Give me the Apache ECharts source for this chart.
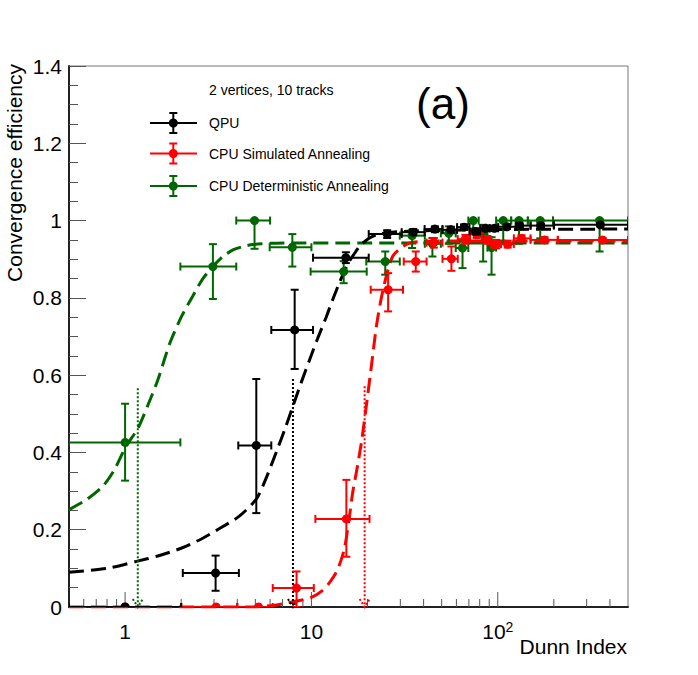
<!DOCTYPE html>
<html><head><meta charset="utf-8">
<script src="https://cdn.jsdelivr.net/npm/echarts@6/dist/echarts.min.js"></script>
<style>html,body{margin:0;padding:0;background:#fff}#c{width:698px;height:675px}</style>
</head><body><div id="c"></div>
<script>
// ---------------- data ----------------
// QPU (black)
const qpuX   = [1.0, 3.06, 5.06, 8.13, 15.3, 25.5, 35.2, 46, 56, 66, 76, 86, 96, 112, 131, 170, 355];
const qpuY   = [0.0, 0.088, 0.418, 0.717, 0.904, 0.965, 0.97, 0.978, 0.976, 0.983, 0.972, 0.98, 0.98, 0.984, 0.987, 0.987, 0.989];
const qpuXlo = [0.5, 2.04, 4.05, 6.09, 10.2, 20.3, 30.5, 40.5, 50.5, 60.5, 70.5, 80.5, 90.5, 100.5, 125, 150, 200];
const qpuXhi = [2.0, 4.08, 6.09, 10.2, 20.3, 30.5, 40.5, 50.5, 60.5, 70.5, 80.5, 90.5, 100.5, 125, 150, 200, 500];
const qpuYlo = [0.0, 0.042, 0.243, 0.616, 0.89, 0.955, 0.962, 0.97, 0.968, 0.976, 0.964, 0.973, 0.973, 0.978, 0.981, 0.982, 0.985];
const qpuYhi = [0.0, 0.133, 0.59, 0.821, 0.918, 0.975, 0.978, 0.985, 0.984, 0.99, 0.98, 0.987, 0.987, 0.99, 0.993, 0.992, 0.993];

// CPU Simulated Annealing (red)
const saX   = [1.0, 3.08, 5.2, 8.32, 15.4, 25.8, 36.3, 45.4, 56.4, 67, 77, 88, 98, 113, 134, 178, 365];
const saY   = [0.0, 0.0, 0.0, 0.049, 0.228, 0.821, 0.894, 0.943, 0.901, 0.952, 0.965, 0.95, 0.939, 0.939, 0.954, 0.95, 0.95];
const saXlo = [0.5, 2.0, 4.0, 6.2, 10.5, 20.8, 31.3, 41.5, 50.5, 61, 71, 82, 92, 104, 122, 150, 210];
const saXhi = [2.0, 4.0, 6.2, 10.3, 20.5, 31, 41.5, 50.5, 61, 71, 82, 92, 104, 122, 150, 210, 500];
const saYlo = [0.0, 0.0, 0.0, 0.0, 0.13, 0.765, 0.868, 0.93, 0.87, 0.94, 0.955, 0.94, 0.928, 0.93, 0.946, 0.943, 0.945];
const saYhi = [0.0, 0.0, 0.0, 0.092, 0.329, 0.864, 0.92, 0.955, 0.933, 0.963, 0.975, 0.96, 0.95, 0.948, 0.962, 0.957, 0.955];

// CPU Deterministic Annealing (green)
const daX   = [1.0, 2.96, 4.95, 7.9, 14.9, 24.9, 34.7, 44.6, 54.6, 64.7, 73.9, 83.5, 92.6, 107, 130, 169, 352];
const daY   = [0.426, 0.881, 1.0, 0.931, 0.868, 0.894, 0.961, 0.94, 0.967, 0.929, 1.0, 0.965, 0.93, 1.0, 1.0, 1.0, 1.0];
const daXlo = [0.5, 1.98, 3.95, 5.97, 9.9, 19.7, 29.8, 40.6, 49.5, 59.5, 69.5, 79, 88, 98, 118, 145, 198];
const daXhi = [1.98, 3.95, 6.0, 10.0, 19.8, 29.8, 40.6, 49.5, 59.5, 69.5, 79, 88, 98, 118, 145, 198, 500];
const daYlo = [0.327, 0.797, 0.927, 0.881, 0.838, 0.86, 0.929, 0.907, 0.94, 0.877, 0.975, 0.894, 0.86, 0.946, 0.94, 0.954, 0.92];
const daYhi = [0.526, 0.939, 1.0, 0.965, 0.895, 0.92, 0.976, 0.955, 0.985, 0.946, 1.0, 0.989, 0.957, 1.0, 1.0, 1.0, 1.0];

// fitted curves
const qpuFitX = [0.5, 0.8, 1.15, 1.5, 2.0, 2.61, 3.21, 4.1, 5.07, 5.73, 6.49, 7.2, 7.96, 8.8, 9.78, 10.8, 12.0, 13.0, 14.1, 15.0, 16.0, 17.2, 18.4, 20.5, 23, 27, 35, 55, 100, 500];
const qpuFitY = [0.09, 0.1, 0.118, 0.132, 0.152, 0.178, 0.203, 0.235, 0.28, 0.335, 0.402, 0.46, 0.52, 0.58, 0.64, 0.695, 0.75, 0.795, 0.838, 0.868, 0.895, 0.918, 0.937, 0.955, 0.965, 0.97, 0.973, 0.975, 0.977, 0.978];
const saFitX  = [0.5, 5.0, 6.2, 7.0, 8.5, 10.0, 11.5, 12.5, 13.6, 14.4, 15.1, 15.9, 16.7, 17.6, 18.6, 19.7, 21.0, 22.3, 23.5, 24.7, 26.0, 27.5, 30.4, 33.6, 40, 60, 500];
const saFitY  = [0.0, 0.0, 0.004, 0.008, 0.016, 0.025, 0.043, 0.063, 0.09, 0.12, 0.155, 0.225, 0.3, 0.36, 0.43, 0.52, 0.625, 0.725, 0.79, 0.838, 0.88, 0.91, 0.93, 0.942, 0.946, 0.947, 0.947];
const daFitX  = [0.5, 0.617, 0.758, 0.876, 1.01, 1.17, 1.32, 1.5, 1.73, 2.0, 2.31, 2.6, 2.96, 3.35, 3.79, 4.3, 4.85, 6.0, 8.6, 500];
const daFitY  = [0.252, 0.277, 0.312, 0.355, 0.415, 0.462, 0.52, 0.588, 0.68, 0.75, 0.805, 0.848, 0.881, 0.907, 0.924, 0.933, 0.938, 0.941, 0.942, 0.942];

// 50% markers (dotted arrows)
const arrowX   = [1.17, 7.96, 19.3];
const arrowTop = [0.566, 0.59, 0.571];

// axis ticks / labels
const xMajorTicks = [1, 10, 100];
const xMinorTicks = [0.6, 0.7, 0.8, 0.9, 2, 3, 4, 5, 6, 7, 8, 9, 20, 30, 40, 50, 60, 70, 80, 90, 200, 300, 400];
const xTickLabels = ['1', '10', '10{sup|2}'];

const legendLabels = ['QPU', 'CPU Simulated Annealing', 'CPU Deterministic Annealing'];
const headerText = '2 vertices, 10 tracks';
const panelText = '(a)';
const xTitle = 'Dunn Index';
const yTitle = 'Convergence efficiency';

// ---------------- styling ----------------
const FONT = '"Liberation Sans", Arial, Helvetica, sans-serif';
const BLACK = '#000000', RED = '#ff0000', GREEN = '#006600';
const colors = [BLACK, RED, GREEN];

function zip(a, b) { return a.map((v, i) => [v, b[i]]); }
function rows(x, y, xl, xh, yl, yh) { return x.map((v, i) => [v, y[i], xl[i], xh[i], yl[i], yh[i]]); }

function errRender(color) {
  return function (params, api) {
    const x = api.value(0), y = api.value(1), xl = api.value(2), xh = api.value(3), yl = api.value(4), yh = api.value(5);
    const c = api.coord([x, y]);
    const pl = api.coord([xl, y]), ph = api.coord([xh, y]);
    const cap = 4;
    const st = { stroke: color, lineWidth: 2 };
    const ch = [];
    ch.push({ type: 'line', shape: { x1: pl[0], y1: c[1], x2: ph[0], y2: c[1] }, style: st });
    ch.push({ type: 'line', shape: { x1: pl[0], y1: c[1] - cap, x2: pl[0], y2: c[1] + cap }, style: st });
    ch.push({ type: 'line', shape: { x1: ph[0], y1: c[1] - cap, x2: ph[0], y2: c[1] + cap }, style: st });
    if (yh > yl) {
      const a = api.coord([x, yh]), b = api.coord([x, yl]);
      ch.push({ type: 'line', shape: { x1: c[0], y1: a[1], x2: c[0], y2: b[1] }, style: st });
      ch.push({ type: 'line', shape: { x1: c[0] - cap, y1: a[1], x2: c[0] + cap, y2: a[1] }, style: st });
      ch.push({ type: 'line', shape: { x1: c[0] - cap, y1: b[1], x2: c[0] + cap, y2: b[1] }, style: st });
    }
    ch.push({ type: 'circle', shape: { cx: c[0], cy: c[1], r: 4.5 }, style: { fill: color } });
    return { type: 'group', children: ch };
  };
}

function fitSeries(xs, ys, color) {
  return {
    type: 'line', data: zip(xs, ys), showSymbol: false, symbol: 'none', smooth: 0.25,
    lineStyle: { color: color, width: 3, type: [15, 7] }, silent: true, z: 2
  };
}

const series = [
  fitSeries(daFitX, daFitY, GREEN),
  fitSeries(qpuFitX, qpuFitY, BLACK),
  fitSeries(saFitX, saFitY, RED),
  // dotted arrows
  {
    type: 'custom', silent: true, z: 3, clip: false,
    data: arrowX.map((v, i) => [v, arrowTop[i], i]),
    renderItem: function (params, api) {
      const col = [GREEN, BLACK, RED][api.value(2)];
      const t = api.coord([api.value(0), api.value(1)]);
      const b = api.coord([api.value(0), 0]);
      const st = { stroke: col, lineWidth: 2, lineDash: [2, 2] };
      return { type: 'group', children: [
        { type: 'line', shape: { x1: t[0], y1: t[1], x2: b[0], y2: b[1] }, style: st },
        { type: 'polyline', shape: { points: [[b[0] - 5, b[1] - 8], [b[0], b[1]], [b[0] + 5, b[1] - 8]] }, style: Object.assign({ fill: null }, st) }
      ] };
    }
  },
  { type: 'custom', z: 4, clip: true, silent: true, data: rows(daX, daY, daXlo, daXhi, daYlo, daYhi), renderItem: errRender(GREEN), encode: { x: 0, y: 1 } },
  { type: 'custom', z: 4, clip: true, silent: true, data: rows(saX, saY, saXlo, saXhi, saYlo, saYhi), renderItem: errRender(RED), encode: { x: 0, y: 1 } },
  { type: 'custom', z: 4, clip: true, silent: true, data: rows(qpuX, qpuY, qpuXlo, qpuXhi, qpuYlo, qpuYhi), renderItem: errRender(BLACK), encode: { x: 0, y: 1 } },
  // x ticks
  {
    type: 'custom', silent: true, z: 1, data: xMajorTicks.map(v => [v, 0]),
    renderItem: function (params, api) {
      const c = api.coord([api.value(0), 0]);
      return { type: 'line', shape: { x1: c[0], y1: c[1], x2: c[0], y2: c[1] - 15 }, style: { stroke: '#555', lineWidth: 1 } };
    }
  },
  {
    type: 'custom', silent: true, z: 1, data: xMinorTicks.map(v => [v, 0]),
    renderItem: function (params, api) {
      const c = api.coord([api.value(0), 0]);
      return { type: 'line', shape: { x1: c[0], y1: c[1], x2: c[0], y2: c[1] - 8 }, style: { stroke: '#555', lineWidth: 1 } };
    }
  },
  // x tick labels
  {
    type: 'custom', silent: true, z: 1, clip: false, data: xMajorTicks.map((v, i) => [v, 0, i]),
    renderItem: function (params, api) {
      const c = api.coord([api.value(0), 0]);
      return { type: 'text', x: c[0], y: c[1] + 24, style: {
        text: xTickLabels[api.value(2)], fontSize: 21, fontFamily: FONT, fill: '#000', align: 'center', verticalAlign: 'middle',
        rich: { sup: { fontSize: 14, fontFamily: FONT, fill: '#000', verticalAlign: 'top', padding: [0, 0, 8, 0] } }
      } };
    }
  }
];

// legend graphics
const legendYs = [123, 153.5, 186];
const graphics = [];
legendLabels.forEach((lab, i) => {
  const y = legendYs[i], col = colors[i];
  const st = { stroke: col, lineWidth: 2 };
  graphics.push({ type: 'line', shape: { x1: 150, y1: y, x2: 197, y2: y }, style: st, z: 10 });
  graphics.push({ type: 'line', shape: { x1: 173.3, y1: y - 10, x2: 173.3, y2: y + 10 }, style: st, z: 10 });
  graphics.push({ type: 'line', shape: { x1: 169.3, y1: y - 10, x2: 177.3, y2: y - 10 }, style: st, z: 10 });
  graphics.push({ type: 'line', shape: { x1: 169.3, y1: y + 10, x2: 177.3, y2: y + 10 }, style: st, z: 10 });
  graphics.push({ type: 'circle', shape: { cx: 173.3, cy: y, r: 4.5 }, style: { fill: col }, z: 10 });
  graphics.push({ type: 'text', x: 209, y: y, style: { text: lab, fontSize: 14, fontFamily: FONT, fill: '#000', align: 'left', verticalAlign: 'middle' }, z: 10 });
});
graphics.push({ type: 'text', x: 209, y: 89.5, style: { text: headerText, fontSize: 14, fontFamily: FONT, fill: '#000', align: 'left', verticalAlign: 'middle' }, z: 10 });
graphics.push({ type: 'text', x: 443, y: 103, style: { text: panelText, fontSize: 44, fontFamily: FONT, fill: '#000', align: 'center', verticalAlign: 'middle' }, z: 10 });
graphics.push({ type: 'text', x: 627, y: 646, style: { text: xTitle, fontSize: 21, fontFamily: FONT, fill: '#000', align: 'right', verticalAlign: 'middle' }, z: 10 });
graphics.push({ type: 'text', x: 14, y: 64, rotation: Math.PI / 2, style: { text: yTitle, fontSize: 21, fontFamily: FONT, fill: '#000', align: 'right', verticalAlign: 'middle' }, z: 10 });

const chart = echarts.init(document.getElementById('c'), null, { renderer: 'svg', width: 698, height: 675 });
chart.setOption({
  animation: false,
  backgroundColor: '#ffffff',
  grid: { left: 69, right: 70, top: 66, bottom: 68, show: true, borderColor: '#777', borderWidth: 1, backgroundColor: 'transparent', containLabel: false, outerBoundsMode: 'none' },
  xAxis: {
    type: 'log', logBase: 10, min: 0.5, max: 500,
    axisLine: { show: true, onZero: false, lineStyle: { color: '#222', width: 2 } },
    axisTick: { show: false }, axisLabel: { show: false }, splitLine: { show: false }, minorTick: { show: false }, minorSplitLine: { show: false }
  },
  yAxis: {
    type: 'value', min: 0, max: 1.4, interval: 0.2,
    axisLine: { show: true, lineStyle: { color: '#222', width: 2 } },
    axisTick: { show: true, inside: true, length: 17, lineStyle: { color: '#555', width: 1 } },
    minorTick: { show: true, splitNumber: 4, length: 9, lineStyle: { color: '#555', width: 1 } },
    axisLabel: { fontSize: 21, color: '#000', margin: 7, fontFamily: FONT },
    splitLine: { show: false }, minorSplitLine: { show: false }
  },
  graphic: graphics,
  series: series
});
</script>
</body></html>
